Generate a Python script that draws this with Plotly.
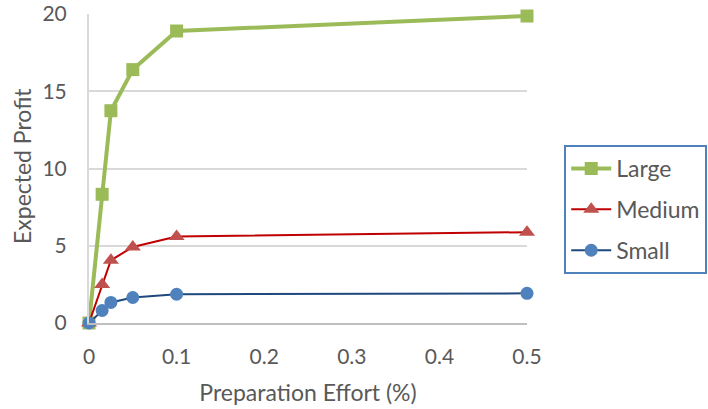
import plotly.graph_objects as go

effort = [0, 0.015, 0.025, 0.05, 0.1, 0.5]
large = [0, 8.33, 13.74, 16.4, 18.9, 19.87]
medium = [0, 2.5, 4.06, 4.92, 5.6, 5.88]
small = [0, 0.81, 1.33, 1.65, 1.86, 1.92]

FONT = "Lato"
TXT = "#595959"

fig = go.Figure()
fig.add_trace(go.Scatter(x=effort, y=large, name="Large", mode="lines+markers",
                         legendgroup="a",
                         line=dict(color="#9bbb59", width=4),
                         marker=dict(symbol="square", size=13, color="#9bbb59"),
                         cliponaxis=False))
fig.add_trace(go.Scatter(x=effort, y=medium, name="Medium", mode="lines+markers",
                         legendgroup="b",
                         line=dict(color="#c00000", width=2),
                         marker=dict(symbol="triangle-up", size=14, color="#c0504d"),
                         cliponaxis=False))
fig.add_trace(go.Scatter(x=effort, y=small, name="Small", mode="lines+markers",
                         legendgroup="c",
                         line=dict(color="#1f497d", width=2),
                         marker=dict(symbol="circle", size=13, color="#4f81bd"),
                         cliponaxis=False))

T, B = 14, 86
ph = 409 - T - B

fig.update_layout(
    width=708, height=409,
    margin=dict(l=89, r=181, t=T, b=B, autoexpand=False),
    paper_bgcolor="white", plot_bgcolor="white",
    font=dict(family=FONT, color=TXT, size=21),
    legend=dict(x=1.085, y=(322 - 143 - (409 - B - 322)) / ph, xanchor="left", yanchor="top",
                bordercolor="#4f81bd", borderwidth=2, itemwidth=40,
                font=dict(size=23, color=TXT), tracegroupgap=8),
    xaxis=dict(range=[0, 0.5], tickvals=[0, 0.1, 0.2, 0.3, 0.4, 0.5],
               ticktext=["0", "0.1", "0.2", "0.3", "0.4", "0.5"],
               showgrid=False, zeroline=False, showline=True, automargin=False,
               linecolor="#bfbfbf", linewidth=2, ticks="", ticklabelstandoff=14,
               tickfont=dict(size=21, color=TXT),
               title=dict(text="Preparation Effort (%)", font=dict(size=23, color=TXT), standoff=18)),
    yaxis=dict(range=[0, 20.0001], tickvals=[0, 5, 10, 15, 20],
               ticklabeloverflow="allow", automargin=False, ticklabelstandoff=16,
               showgrid=True, gridcolor="#d9d9d9", gridwidth=2,
               zeroline=False, showline=True, linecolor="#d9d9d9", linewidth=2,
               ticks="", tickfont=dict(size=21, color=TXT)),
    annotations=[dict(text="Expected Profit", textangle=-90, xref="paper", yref="paper",
                      x=(22 - 89) / 438, y=(409 - B - 166) / ph, showarrow=False,
                      xanchor="center", yanchor="middle",
                      font=dict(size=23, color=TXT, family=FONT))],
)

fig.write_html("out.html")
